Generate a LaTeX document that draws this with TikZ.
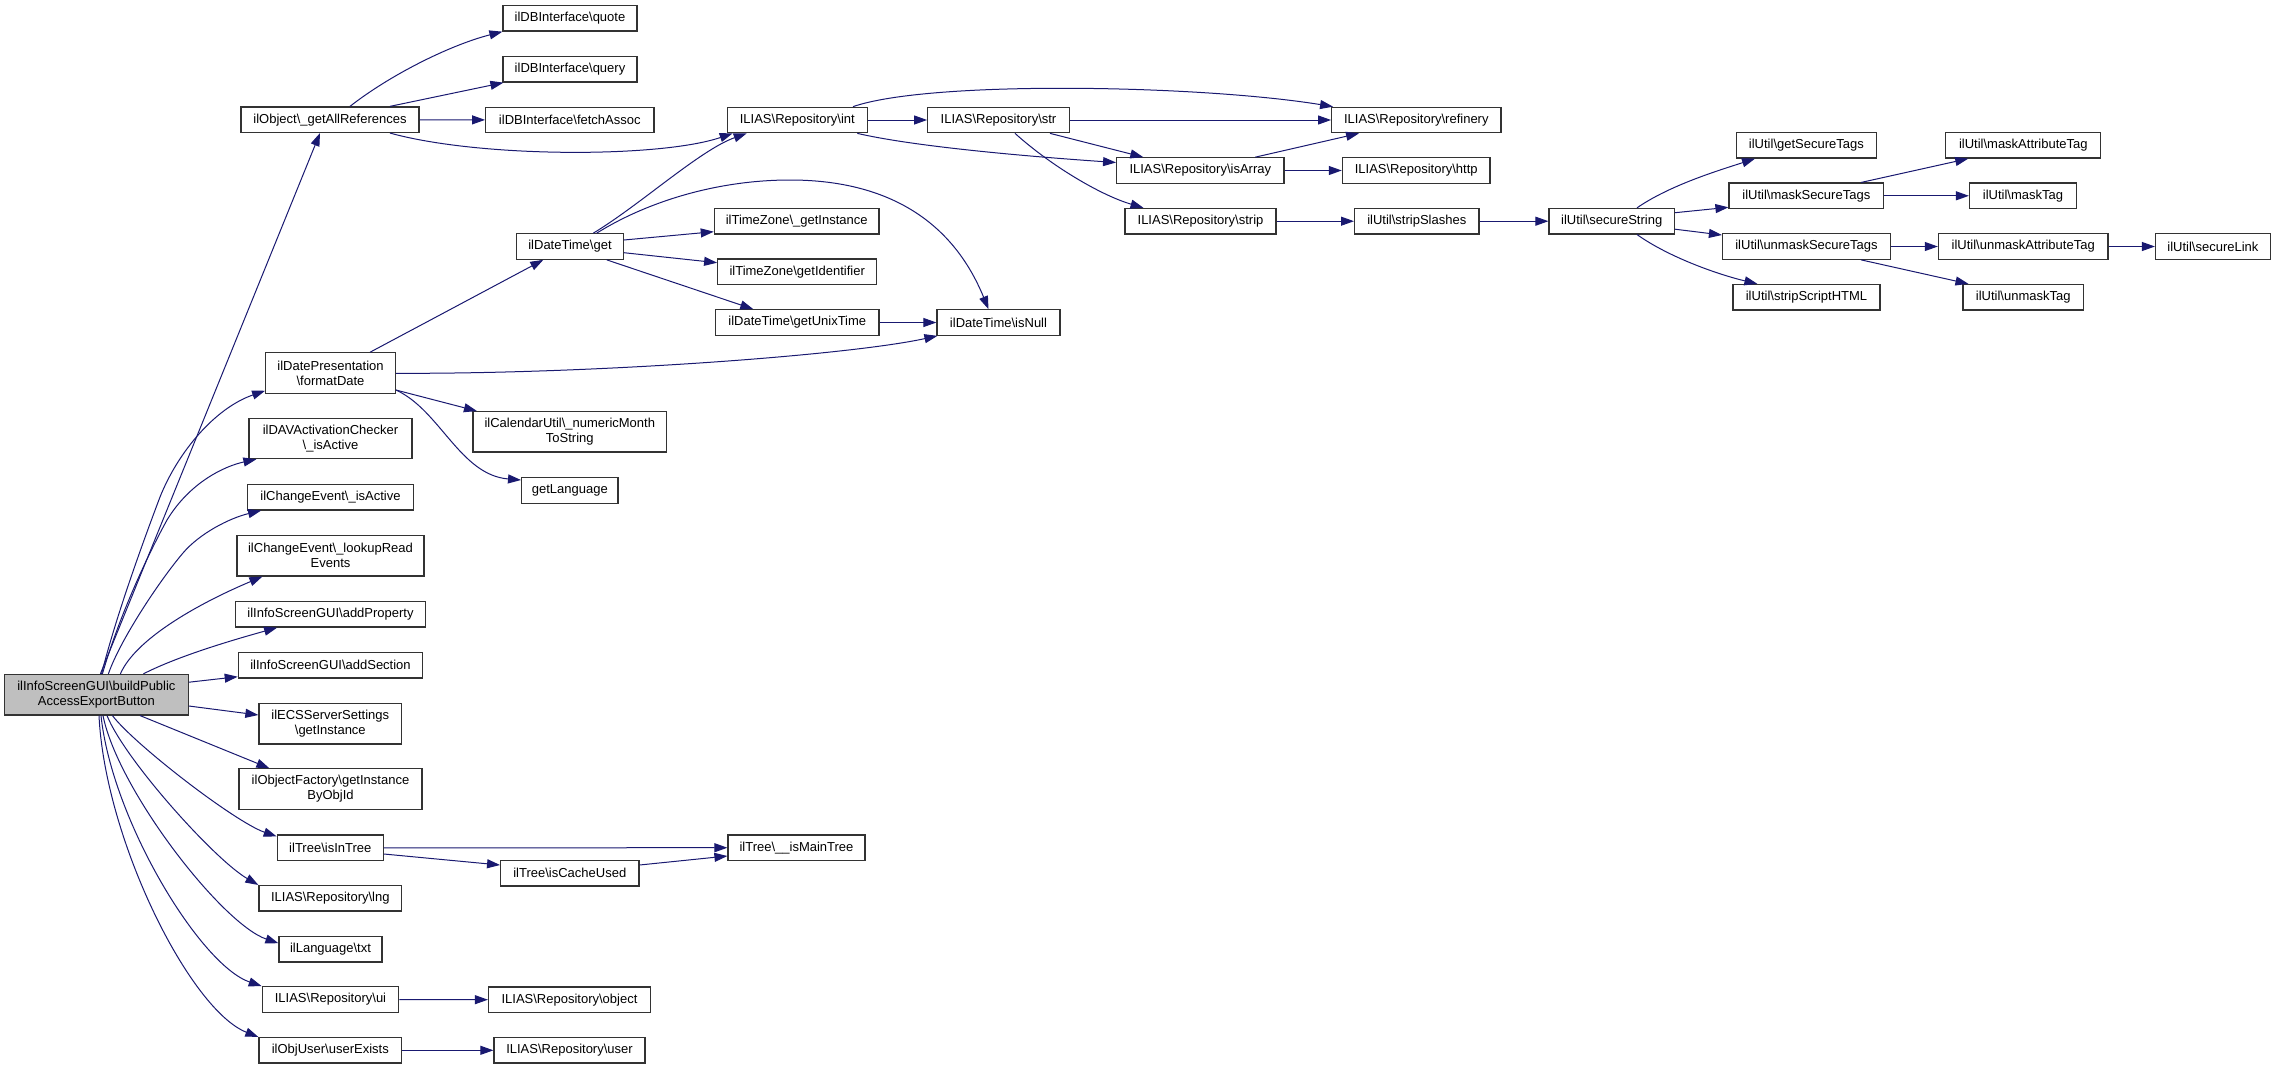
\documentclass[tikz,border=0pt]{standalone}
\usepackage{fontspec}
\setmainfont{Liberation Sans}
\usetikzlibrary{arrows.meta}
\definecolor{edgec}{HTML}{191970}
\definecolor{mainfill}{HTML}{BFBFBF}
\newcommand{\bsl}{\textbackslash}
\begin{document}
\begin{tikzpicture}[x=1pt,y=-1pt,
  box/.style={draw=black!80, line width=1.2pt, fill=white, inner sep=0pt, align=center,
              minimum height=25.5pt, font=\fontsize{13}{15}\selectfont},
  tall/.style={minimum height=40.3pt},
  conn/.style={draw=edgec, line width=1pt, -{Triangle[length=13pt,width=9pt]}}]
\useasboundingbox (0,0) rectangle (2276,1069);

% ---- nodes ----
\node[box, tall, fill=mainfill, minimum width=183.8pt, minimum height=40.5pt] (nM) at (96.4,694.7) {ilInfoScreenGUI\bsl{}buildPublic\\AccessExportButton};
\node[box, minimum width=178pt] (nGAR) at (330,119.7) {ilObject\bsl\_getAllReferences};
\node[box, minimum width=134pt] (nQUOTE) at (570,18.3) {ilDBInterface\bsl{}quote};
\node[box, minimum width=134pt] (nQUERY) at (570,69.3) {ilDBInterface\bsl{}query};
\node[box, minimum width=168.3pt] (nFA) at (569.8,120) {ilDBInterface\bsl{}fetchAssoc};
\node[box, minimum width=140pt] (nINT) at (797.3,120) {ILIAS\bsl{}Repository\bsl{}int};
\node[box, minimum width=141.6pt] (nSTR) at (998.5,120) {ILIAS\bsl{}Repository\bsl{}str};
\node[box, minimum width=169.3pt] (nREF) at (1416.3,120) {ILIAS\bsl{}Repository\bsl{}refinery};
\node[box, minimum width=167.3pt] (nISA) at (1200.3,170.5) {ILIAS\bsl{}Repository\bsl{}isArray};
\node[box, minimum width=147.7pt] (nHTTP) at (1416.2,170.5) {ILIAS\bsl{}Repository\bsl{}http};
\node[box, minimum width=151pt] (nSTRIP) at (1200.5,221.2) {ILIAS\bsl{}Repository\bsl{}strip};
\node[box, minimum width=124.4pt] (nSLS) at (1416.8,221.2) {ilUtil\bsl{}stripSlashes};
\node[box, minimum width=125.4pt] (nSS) at (1611.7,221.2) {ilUtil\bsl{}secureString};
\node[box, minimum width=139.6pt] (nGST) at (1806.4,145.3) {ilUtil\bsl{}getSecureTags};
\node[box, minimum width=154.6pt] (nMST) at (1806.3,195.8) {ilUtil\bsl{}maskSecureTags};
\node[box, minimum width=168pt] (nUMST) at (1806.5,246.5) {ilUtil\bsl{}unmaskSecureTags};
\node[box, minimum width=147pt] (nSSH) at (1806.5,297.2) {ilUtil\bsl{}stripScriptHTML};
\node[box, minimum width=155pt] (nMAT) at (2023.3,145.3) {ilUtil\bsl{}maskAttributeTag};
\node[box, minimum width=107pt] (nMT) at (2023,195.8) {ilUtil\bsl{}maskTag};
\node[box, minimum width=169.6pt] (nUMAT) at (2023.2,246.5) {ilUtil\bsl{}unmaskAttributeTag};
\node[box, minimum width=120.3pt] (nUMT) at (2023.2,297.2) {ilUtil\bsl{}unmaskTag};
\node[box, minimum width=114.8pt] (nSL) at (2212.9,246.5) {ilUtil\bsl{}secureLink};
\node[box, minimum width=106.6pt] (nDTG) at (570,246.5) {ilDateTime\bsl{}get};
\node[box, minimum width=164.7pt] (nTZGI) at (796.7,221.3) {ilTimeZone\bsl\_getInstance};
\node[box, minimum width=159pt] (nTZID) at (797.2,271.7) {ilTimeZone\bsl{}getIdentifier};
\node[box, minimum width=163.3pt] (nGUT) at (797.3,322.5) {ilDateTime\bsl{}getUnixTime};
\node[box, minimum width=123pt] (nNULL) at (998.5,322.5) {ilDateTime\bsl{}isNull};
\node[box, tall, minimum width=129.6pt] (nFD) at (330.5,373) {ilDatePresentation\\\bsl{}formatDate};
\node[box, tall, minimum width=193.5pt] (nCU) at (569.8,431.8) {ilCalendarUtil\bsl\_numericMonth\\ToString};
\node[box, minimum width=96.4pt, minimum height=26pt] (nGL) at (569.8,490.3) {getLanguage};
\node[box, tall, minimum width=163pt] (nDAV) at (330.5,438.5) {ilDAVActivationChecker\\\bsl\_isActive};
\node[box, minimum width=165.6pt] (nCEA) at (330.5,497.2) {ilChangeEvent\bsl\_isActive};
\node[box, tall, minimum width=187pt] (nCEL) at (330.5,555.8) {ilChangeEvent\bsl\_lookupRead\\Events};
\node[box, minimum width=189.6pt] (nAP) at (330.5,614.3) {ilInfoScreenGUI\bsl{}addProperty};
\node[box, minimum width=184.4pt] (nAS) at (330.5,665.2) {ilInfoScreenGUI\bsl{}addSection};
\node[box, tall, minimum width=142.7pt] (nECS) at (330.3,723.8) {ilECSServerSettings\\\bsl{}getInstance};
\node[box, tall, minimum width=183pt] (nOF) at (330.5,789) {ilObjectFactory\bsl{}getInstance\\ByObjId};
\node[box, minimum width=106pt] (nIIT) at (330.3,847.8) {ilTree\bsl{}isInTree};
\node[box, minimum width=142.7pt] (nLNG) at (330.3,898.3) {ILIAS\bsl{}Repository\bsl{}lng};
\node[box, minimum width=103pt] (nTXT) at (330.5,949.2) {ilLanguage\bsl{}txt};
\node[box, minimum width=136.4pt] (nUI) at (330.5,999.5) {ILIAS\bsl{}Repository\bsl{}ui};
\node[box, minimum width=142.7pt] (nUE) at (330.3,1050.3) {ilObjUser\bsl{}userExists};
\node[box, minimum width=138.3pt] (nICU) at (569.8,873.2) {ilTree\bsl{}isCacheUsed};
\node[box, minimum width=137pt] (nIMT) at (796.5,847.7) {ilTree\bsl\_\_isMainTree};
\node[box, minimum width=162pt] (nOBJ) at (569.5,999.8) {ILIAS\bsl{}Repository\bsl{}object};
\node[box, minimum width=151pt] (nUSER) at (569.5,1050.3) {ILIAS\bsl{}Repository\bsl{}user};

% ---- edges from the main node ----
\draw[conn] ([xshift=4pt]nM.north) -- ([xshift=-10pt]nGAR.south);
\draw[conn] (nM) .. controls (115,620) and (140,550) .. (160,497) .. controls (178,452) and (215,408) .. ([yshift=3pt]nFD.south west);
\draw[conn] (nM) .. controls (118,620) and (145,560) .. (167,520) .. controls (190,482) and (225,466) .. ([xshift=8pt]nDAV.south west);
\draw[conn] ([xshift=12pt]nM.north) .. controls (120,640) and (160,580) .. (183,553) .. controls (200,533) and (230,518) .. ([xshift=14pt]nCEA.south west);
\draw[conn] ([xshift=24pt]nM.north) .. controls (135,640) and (195,605) .. ([xshift=26pt]nCEL.south west);
\draw[conn] ([xshift=47pt]nM.north) .. controls (180,655) and (240,638) .. ([xshift=42pt]nAP.south west);
\draw[conn] ([yshift=12.5pt]nM.east) -- ([yshift=-11.5pt]nAS.west);
\draw[conn] ([yshift=-11.3pt]nM.east) -- ([yshift=8.8pt]nECS.west);
\draw[conn] ([xshift=43.6pt]nM.south) -- ([xshift=31pt]nOF.north west);
\draw[conn] ([xshift=16pt]nM.south) .. controls (135,745) and (235,822) .. ([yshift=-2pt]nIIT.north west);
\draw[conn] ([xshift=10.6pt]nM.south) .. controls (125,760) and (215,860) .. (nLNG.north west);
\draw[conn] ([xshift=6.6pt]nM.south) .. controls (118,790) and (222,924) .. ([yshift=6pt]nTXT.west);
\draw[conn] ([xshift=4.6pt]nM.south) .. controls (112,820) and (200,965) .. (nUI.north west);
\draw[conn] ([xshift=2.6pt]nM.south) .. controls (105,840) and (190,1010) .. (nUE.north west);

% ---- getAllReferences ----
\draw[conn] ([xshift=20pt]nGAR.north) .. controls (390,75) and (450,45) .. (nQUOTE.south west);
\draw[conn] ([xshift=60pt]nGAR.north) -- ([xshift=1pt]nQUERY.south west);
\draw[conn] (nGAR) -- (nFA);
\draw[conn] ([xshift=60pt]nGAR.south) .. controls (480,158) and (660,158) .. ([xshift=6pt]nINT.south west);

% ---- ilDateTime\get ----
\draw[conn] ([xshift=23.3pt]nDTG.north) .. controls (640,205) and (700,150) .. ([xshift=20pt]nINT.south west);
\draw[conn] ([xshift=26.7pt]nDTG.north) .. controls (650,200) and (720,180) .. (790,180) .. controls (880,180) and (950,215) .. ([xshift=-10pt]nNULL.north);
\draw[conn] ([yshift=6.5pt]nDTG.east) -- ([yshift=-10.4pt]nTZGI.west);
\draw[conn] ([yshift=-6.2pt]nDTG.east) -- ([yshift=9pt]nTZID.west);
\draw[conn] ([xshift=36.7pt]nDTG.south) -- ([xshift=-44pt]nGUT.north);
\draw[conn] (nGUT) -- (nNULL);

% ---- formatDate ----
\draw[conn] ([xshift=39.5pt]nFD.north) -- ([xshift=-26.7pt]nDTG.south);
\draw[conn] ([yshift=-0.3pt]nFD.east) .. controls (600,374) and (850,355) .. ([xshift=1pt]nNULL.south west);
\draw[conn] ([yshift=-17pt]nFD.east) -- ([xshift=4.5pt]nCU.north west);
\draw[conn] ([yshift=-17pt]nFD.east) .. controls (440,410) and (460,475) .. ([yshift=10.3pt]nGL.west);

% ---- Repository ----
\draw[conn] (nINT) -- (nSTR);
\draw[conn] ([xshift=55.7pt]nINT.north) .. controls (930,80) and (1200,85) .. ([xshift=2pt]nREF.north west);
\draw[conn] ([xshift=60pt]nINT.south) .. controls (920,148) and (1050,158) .. ([yshift=8pt]nISA.west);
\draw[conn] (nSTR) -- (nREF);
\draw[conn] ([xshift=51.5pt]nSTR.south) -- ([xshift=-57pt]nISA.north);
\draw[conn] ([xshift=16.5pt]nSTR.south) .. controls (1050,165) and (1100,195) .. ([xshift=-57pt]nSTRIP.north);
\draw[conn] ([xshift=55pt]nISA.north) -- ([xshift=28pt]nREF.south west);
\draw[conn] (nISA) -- (nHTTP);
\draw[conn] (nSTRIP) -- (nSLS);
\draw[conn] (nSLS) -- (nSS);

% ---- ilUtil ----
\draw[conn] ([xshift=25.3pt]nSS.north) .. controls (1670,185) and (1720,170) .. ([xshift=19pt]nGST.south west);
\draw[conn] ([yshift=8.5pt]nSS.east) -- ([yshift=-11.5pt]nMST.west);
\draw[conn] ([yshift=-8pt]nSS.east) -- ([yshift=11.5pt]nUMST.west);
\draw[conn] ([xshift=25.3pt]nSS.south) .. controls (1670,258) and (1720,275) .. ([xshift=25pt]nSSH.north west);
\draw[conn] ([xshift=54.7pt]nMST.north) -- ([xshift=23pt]nMAT.south west);
\draw[conn] (nMST) -- (nMT);
\draw[conn] (nUMST) -- (nUMAT);
\draw[conn] ([xshift=54.5pt]nUMST.south) -- ([xshift=6pt]nUMT.north west);
\draw[conn] (nUMAT) -- (nSL);

% ---- tree, ui, user ----
\draw[conn] (nIIT) -- (nIMT);
\draw[conn] ([yshift=-6.2pt]nIIT.east) -- ([yshift=8.2pt]nICU.west);
\draw[conn] ([yshift=8.2pt]nICU.east) -- ([yshift=-8.3pt]nIMT.west);
\draw[conn] (nUI) -- (nOBJ);
\draw[conn] (nUE) -- (nUSER);
\end{tikzpicture}
\end{document}
